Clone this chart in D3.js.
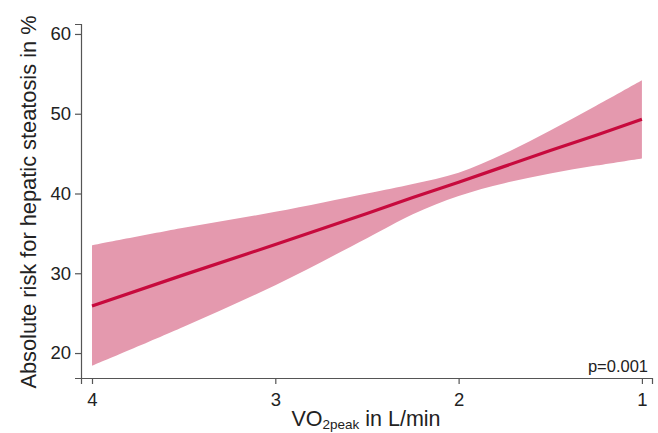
<!DOCTYPE html>
<html>
<head>
<meta charset="utf-8">
<script src="https://cdn.jsdelivr.net/npm/d3@7"></script>
<style>
	body { margin: 0; background: #fff; }
	svg { display: block; font-family: "Liberation Sans", Arial, sans-serif; }
</style>
</head>
<body>
<main></main>
<script>
// VO2peak (L/min), x axis runs from 4 down to 1
const vo2 = [4, 3.5, 3, 2.5, 2.25, 2, 1.75, 1.5, 1.25, 1];
// absolute risk (%) - fitted line and the band around it
const risk = [25.9, 29.8, 33.6, 37.5, 39.5, 41.4, 43.4, 45.4, 47.3, 49.3];
const riskUpper = [33.5, 35.7, 37.7, 40.0, 41.2, 42.6, 45.0, 47.9, 51.0, 54.2];
const riskLower = [18.4, 23.3, 28.5, 34.4, 37.4, 39.7, 41.3, 42.5, 43.5, 44.4];
const xTicks = [4, 3, 2, 1];
const yTicks = [20, 30, 40, 50, 60];

document.addEventListener("DOMContentLoaded", function() {
	const sw = 658,
		sh = 433,
		//plot box edges
		pd = { top: 24, bottom: 378, left: 81, right: 652 },
		x = d3.scaleLinear().domain([4.06, 0.945]).range([pd.left, pd.right]),
		y = d3.scaleLinear().domain([16.87, 61.25]).range([pd.bottom, pd.top]);

	const pts = vo2.map((v, i) => ({ v: v, r: risk[i], lo: riskLower[i], hi: riskUpper[i] }));

	const svg = d3
		.select("main")
		.append("svg")
		.attr("width", sw)
		.attr("height", sh);

	/*---------band + fitted line-----------*/
	const band = d3
		.area()
		.x((d) => x(d.v))
		.y0((d) => y(d.lo))
		.y1((d) => y(d.hi))
		.curve(d3.curveCatmullRom);
	svg
		.append("path")
		.datum(pts)
		.attr("d", band)
		.attr("fill", "#e499ae");

	const line = d3
		.line()
		.x((d) => x(d.v))
		.y((d) => y(d.r));
	svg
		.append("path")
		.datum(pts)
		.attr("d", line)
		.attr("fill", "none")
		.attr("stroke", "#c70a3d")
		.attr("stroke-width", 3.2);

	/*---------axes-----------*/
	const xAxis = svg
		.append("g")
		.attr("transform", "translate(0," + pd.bottom + ")")
		.call(d3.axisBottom(x).tickValues(xTicks).tickFormat(d3.format("d")).tickSizeOuter(0).tickSize(6).tickPadding(9));
	const yAxis = svg
		.append("g")
		.attr("transform", "translate(" + pd.left + ",0)")
		.call(d3.axisLeft(y).tickValues(yTicks).tickSizeOuter(0).tickSize(6).tickPadding(4));
	[xAxis, yAxis].forEach((g) => {
		g.selectAll("path, line").attr("stroke", "#555").attr("stroke-width", 1.2);
		g.selectAll("text").attr("fill", "#222").style("font-size", "18.5px");
		g.attr("font-family", null);
	});

	/*---------titles-----------*/
	const xt = svg
		.append("text")
		.attr("x", 366)
		.attr("y", 426)
		.attr("text-anchor", "middle")
		.attr("fill", "#222")
		.style("font-size", "21.5px");
	xt.append("tspan").text("VO");
	xt.append("tspan").attr("dy", 3).style("font-size", "13.5px").text("2peak");
	xt.append("tspan").attr("dy", -3).text(" in L/min");

	svg
		.append("text")
		.attr("transform", "translate(36,202) rotate(-90)")
		.attr("text-anchor", "middle")
		.attr("fill", "#222")
		.style("font-size", "21.8px")
		.text("Absolute risk for hepatic steatosis in %");

	svg
		.append("text")
		.attr("x", 648)
		.attr("y", 372)
		.attr("text-anchor", "end")
		.attr("fill", "#222")
		.style("font-size", "16.5px")
		.text("p=0.001");
});
</script>
</body>
</html>
